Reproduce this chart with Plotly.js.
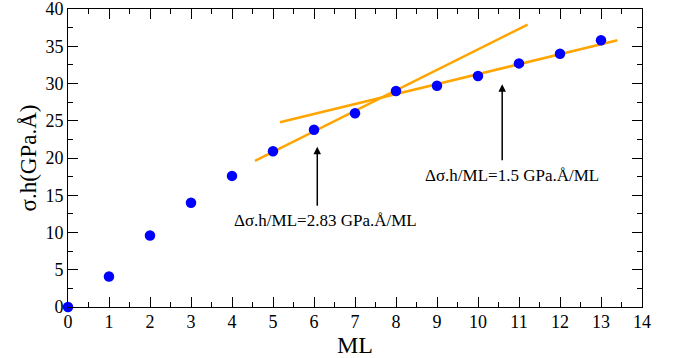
<!DOCTYPE html>
<html>
<head>
<meta charset="utf-8">
<script src="https://cdn.plot.ly/plotly-3.0.1.min.js"></script>
<style>html,body{margin:0;padding:0;background:#fff;}#chart{width:682px;height:358px;}</style>
</head>
<body>
<div id="chart"></div>
<script>
// Data points
var ML = [0, 1, 2, 3, 4, 5, 6, 7, 8, 9, 10, 11, 12, 13];
var sigmaH = [0, 4.1, 9.6, 14.0, 17.6, 20.9, 23.8, 26.0, 29.0, 29.7, 31.0, 32.7, 34.0, 35.8];
// Linear fit segments (endpoints)
var fit1X = [4.56, 11.21];
var fit1Y = [19.6, 37.9];
var fit2X = [5.17, 13.40];
var fit2Y = [24.8, 35.8];
// Annotations
var labels = ["Δσ.h/ML=2.83 GPa.Å/ML", "Δσ.h/ML=1.5 GPa.Å/ML"];
var arrowX = [6.08, 10.59];
var arrowHeadY = [21.5, 29.9];
var arrowTailY = [13.4, 19.5];
var labelX = [6.28, 10.84];
var labelY = [11.6, 17.6];

var font = "'Liberation Serif', 'Times New Roman', Times, serif";
var orange = "#FFA500";

var traces = [
  {x: fit1X, y: fit1Y, mode: "lines", line: {color: orange, width: 2.5}, hoverinfo: "skip"},
  {x: fit2X, y: fit2Y, mode: "lines", line: {color: orange, width: 2.5}, hoverinfo: "skip"},
  {x: ML, y: sigmaH, mode: "markers", marker: {color: "#0000ff", size: 10.5}, cliponaxis: false}
];

var annotations = [];
for (var i = 0; i < labels.length; i++) {
  annotations.push({x: arrowX[i], y: arrowHeadY[i], ax: arrowX[i], ay: arrowTailY[i],
    xref: "x", yref: "y", axref: "x", ayref: "y", text: "", showarrow: true,
    arrowhead: 2, arrowsize: 1, arrowwidth: 1.5, arrowcolor: "#000"});
  annotations.push({x: labelX[i], y: labelY[i], xref: "x", yref: "y", text: labels[i],
    showarrow: false, font: {family: font, size: 17, color: "#000"}});
}

var axisCommon = {
  showgrid: false, zeroline: false, showline: true, linecolor: "#000", linewidth: 1,
  mirror: "allticks", ticks: "inside", ticklen: 10, tickwidth: 1, tickcolor: "#000",
  ticklabeloverflow: "allow",
  tickfont: {family: font, size: 18, color: "#000"}
};

var layout = {
  width: 682, height: 358,
  margin: {l: 68, r: 40, t: 9, b: 51},
  paper_bgcolor: "#fff", plot_bgcolor: "#fff",
  showlegend: false,
  xaxis: Object.assign({}, axisCommon, {
    range: [0, 14], dtick: 1, tick0: 0, ticklabelstandoff: -2,
    minor: {dtick: 0.5, ticks: "inside", ticklen: 5, tickcolor: "#000", tickwidth: 1},
    title: {text: "ML", font: {family: font, size: 24, color: "#000"}, standoff: 2}
  }),
  yaxis: Object.assign({}, axisCommon, {
    range: [0, 40.0001], dtick: 5, tick0: 0,
    minor: {dtick: 2.5, ticks: "inside", ticklen: 5, tickcolor: "#000", tickwidth: 1},
    title: {text: "σ.h(GPa.Å)", font: {family: font, size: 23, color: "#000"}, standoff: 2}
  }),
  annotations: annotations
};

Plotly.newPlot("chart", traces, layout, {displayModeBar: false, staticPlot: true});
</script>
</body>
</html>
